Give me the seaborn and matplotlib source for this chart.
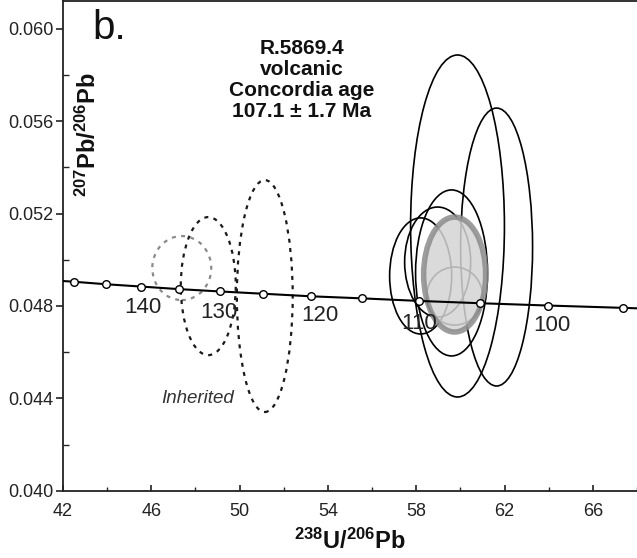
import matplotlib
matplotlib.use("Agg")
import matplotlib.pyplot as plt
import seaborn as sns
import pandas as pd
from matplotlib.patches import Ellipse
from matplotlib.ticker import MultipleLocator, FormatStrFormatter, FixedLocator

sns.set_theme(style="white")
plt.rcParams['font.family'] = ['Liberation Sans', 'DejaVu Sans']
plt.rcParams['mathtext.fontset'] = 'custom'
plt.rcParams['mathtext.rm'] = 'Liberation Sans:bold'
plt.rcParams['mathtext.bf'] = 'Liberation Sans:bold'
plt.rcParams['mathtext.it'] = 'Liberation Sans:bold'

# Concordia curve (Tera-Wasserburg), marker ages in Ma
conc_age = [151.6, 150, 145, 140, 135, 130, 125, 120, 115, 110, 105, 100, 95, 94.0]
conc_x = [42.0, 42.48, 43.96, 45.55, 47.25, 49.09, 51.07, 53.22, 55.56, 58.11, 60.90, 63.97, 67.36, 68.0]
conc_y = [0.04908, 0.04905, 0.04894, 0.04884, 0.04873, 0.04863, 0.04853, 0.04842,
          0.04833, 0.04822, 0.04812, 0.04802, 0.04792, 0.04790]
marker_idx = list(range(1, 13))

# Age labels on the concordia
age_labels = ["140", "130", "120", "110", "100"]
age_label_x = [45.62, 49.06, 53.63, 58.15, 64.13]
age_label_y = [0.04795, 0.04770, 0.04758, 0.04724, 0.04716]

# Inherited zircon error ellipses (dotted)
inh_x = [47.38, 48.58, 51.14]
inh_y = [0.04964, 0.04886, 0.04843]
inh_w = [2.67, 2.49, 2.53]
inh_h = [0.00277, 0.00597, 0.01003]
inh_color = ['#8a8a8a', '#1a1a1a', '#1a1a1a']

# Volcanic zircon error ellipses (solid)
volc_x = [59.87, 61.64, 59.60, 58.97, 58.20, 59.74]
volc_y = [0.05146, 0.05055, 0.04943, 0.04990, 0.04930, 0.04843]
volc_w = [4.25, 3.26, 3.26, 2.99, 2.81, 2.53]
volc_h = [0.01479, 0.01202, 0.00718, 0.00476, 0.00502, 0.00251]

# Concordia age ellipse
cage_x, cage_y, cage_w, cage_h = 59.74, 0.04936, 2.81, 0.00497

# Tick values
x_major = [42, 46, 50, 54, 58, 62, 66]
x_minor = [44, 48, 52, 56, 60, 64, 68]

fig = plt.figure(figsize=(6.37, 5.58), dpi=100)
ax = fig.add_axes([0.0989, 0.1201, 0.9011, 0.8781])

df_line = pd.DataFrame({"x": conc_x, "y": conc_y})
sns.lineplot(data=df_line, x="x", y="y", ax=ax, color="black", lw=1.5,
             sort=False, estimator=None, zorder=6)
df_mark = df_line.iloc[marker_idx]
sns.scatterplot(data=df_mark, x="x", y="y", ax=ax, s=30, color="white",
                edgecolor="black", linewidth=1.0, zorder=7)

for x, y, w, h, c in zip(inh_x, inh_y, inh_w, inh_h, inh_color):
    ax.add_patch(Ellipse((x, y), w, h, fill=False, edgecolor=c, lw=1.6,
                         linestyle=(0, (1.8, 2.4)), zorder=3))

for x, y, w, h in zip(volc_x, volc_y, volc_w, volc_h):
    ax.add_patch(Ellipse((x, y), w, h, fill=False, edgecolor="black", lw=1.2,
                         zorder=3))

ax.add_patch(Ellipse((cage_x, cage_y), cage_w, cage_h, facecolor="#d4d4d4",
                     edgecolor="#8c8c8c", lw=4, alpha=0.85, zorder=4))

for t, x, y in zip(age_labels, age_label_x, age_label_y):
    ax.text(x, y, t, ha="center", va="center", fontsize=16, color="#222222", zorder=8)

ax.text(48.1, 0.04402, "Inherited", ha="center", va="center", fontsize=13.5,
        style="italic", color="#333333")
ax.text(52.81, 0.05777, "R.5869.4\nvolcanic\nConcordia age\n107.1 \u00b1 1.7 Ma",
        ha="center", va="center", fontsize=15, fontweight="bold",
        linespacing=1.15, color="#111111")
ax.text(43.31, 0.06002, "b.", ha="left", va="center", fontsize=29, color="#111111")

ax.set_xlim(42, 68)
ax.set_ylim(0.040, 0.06119)
ax.xaxis.set_major_locator(FixedLocator(x_major))
ax.xaxis.set_minor_locator(FixedLocator(x_minor))
ax.yaxis.set_major_locator(MultipleLocator(0.004))
ax.yaxis.set_minor_locator(MultipleLocator(0.002))
ax.yaxis.set_major_formatter(FormatStrFormatter('%.3f'))
ax.tick_params(axis='x', which='major', direction='in', length=4, width=1.2,
               labelsize=13, pad=9, colors='#222222', bottom=True)
ax.tick_params(axis='x', which='minor', direction='in', length=3, width=1.0, bottom=True)
ax.tick_params(axis='y', which='major', direction='out', length=5, width=1.2,
               labelsize=13, pad=2, colors='#222222', left=True)
ax.tick_params(axis='y', which='minor', direction='in', length=4, width=1.0, left=True)

for s in ['left', 'bottom', 'top']:
    ax.spines[s].set_color('#222222')
    ax.spines[s].set_linewidth(1.3)
ax.spines['right'].set_visible(False)

ax.set_xlabel(r"$^{238}$U/$^{206}$Pb", fontsize=17, fontweight="bold", labelpad=6,
              color='#111111')
ax.set_ylabel("")
ax.text(0.0436, 0.727, r"$^{207}$Pb/$^{206}$Pb", transform=ax.transAxes,
        rotation=90, ha="center", va="center", fontsize=17, fontweight="bold",
        color='#111111')

fig.savefig("out.png", dpi=100)
